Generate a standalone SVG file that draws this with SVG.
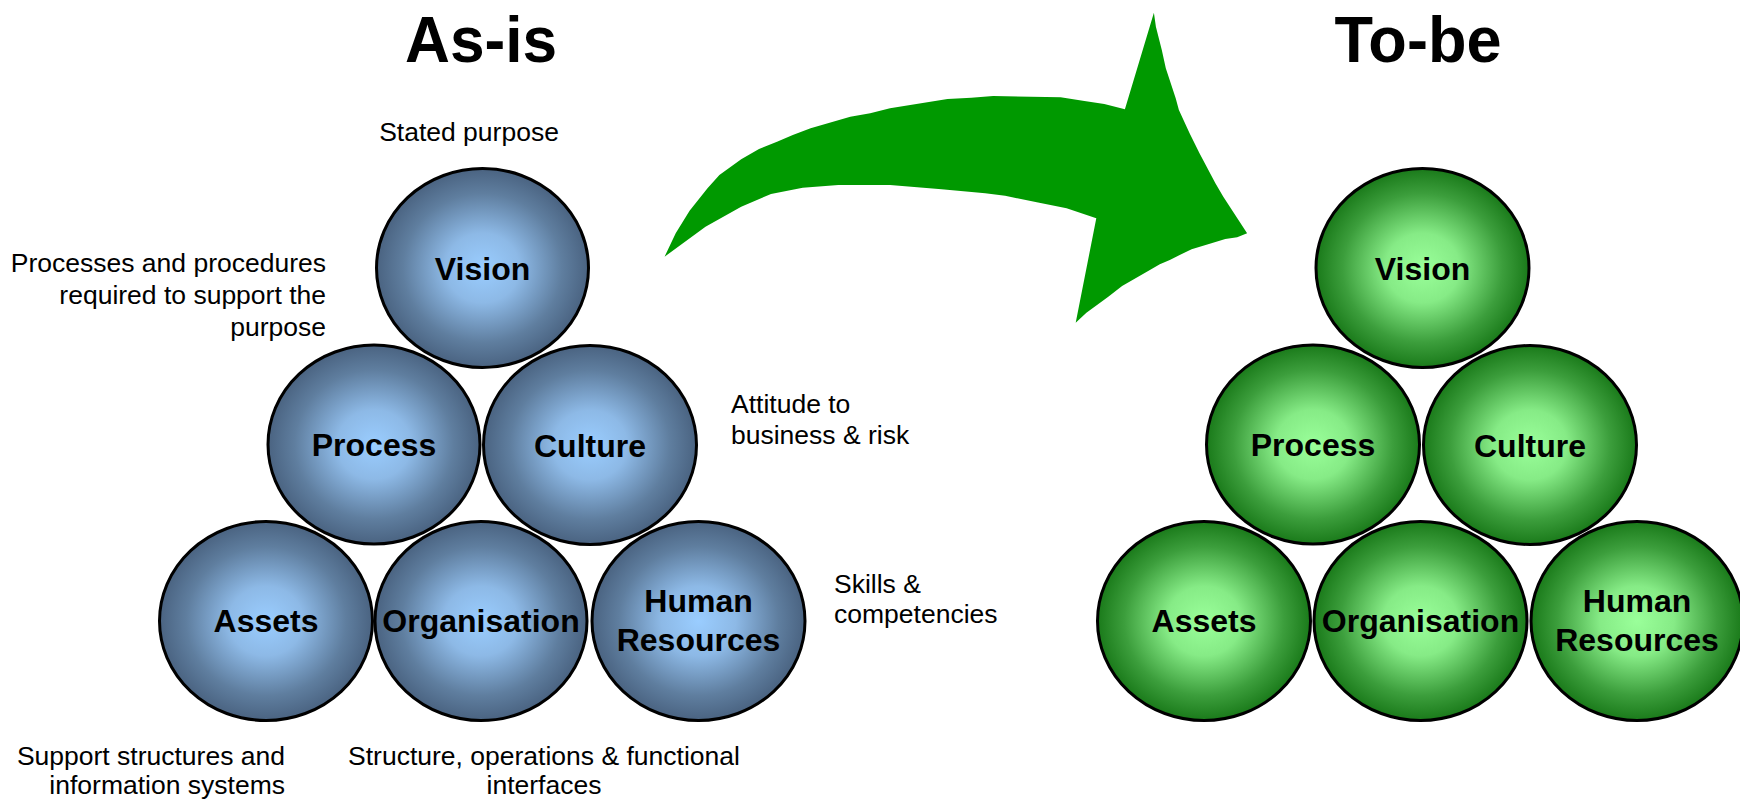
<svg xmlns="http://www.w3.org/2000/svg" width="1740" height="801" viewBox="0 0 1740 801">
<defs>
<radialGradient id="gBlue" cx="50%" cy="50%" r="50%">
<stop offset="0%" stop-color="#9ACDFF"/>
<stop offset="35%" stop-color="#8DB9E6"/>
<stop offset="75%" stop-color="#5F7E9F"/>
<stop offset="100%" stop-color="#4A6381"/>
</radialGradient>
<radialGradient id="gGreen" cx="50%" cy="50%" r="50%">
<stop offset="0%" stop-color="#9AFF9A"/>
<stop offset="35%" stop-color="#86EB86"/>
<stop offset="75%" stop-color="#3C9E3C"/>
<stop offset="100%" stop-color="#1A7A1A"/>
</radialGradient>
<style>
.blue{fill:url(#gBlue);stroke:#000;stroke-width:3}
.green{fill:url(#gGreen);stroke:#000;stroke-width:3}
.lbl{font-family:"Liberation Sans",Arial,sans-serif;font-weight:bold;font-size:32px;fill:#000;text-anchor:middle}
.title{font-family:"Liberation Sans",Arial,sans-serif;font-weight:bold;font-size:64px;fill:#000;text-anchor:middle}
.note{font-family:"Liberation Sans",Arial,sans-serif;font-size:26.5px;fill:#000}
</style>
</defs>
<rect width="1740" height="801" fill="#fff"/>

<text class="title" x="481" y="62" textLength="152" lengthAdjust="spacingAndGlyphs">As-is</text>
<text class="title" x="1418" y="62" textLength="167" lengthAdjust="spacingAndGlyphs">To-be</text>

<g id="connectors">
<path id="arrow" fill="#009900" d="M664.6,256.7 L675.7,233.3 L689.6,210.7 L707.5,188.3 L719.4,175 L741.2,159.3 L759,149 L777,141.7 L792.8,135 L810.6,128.3 L850.3,116.7 L870.2,113.3 L890,108.3 L947.5,99 L971.3,97.7 L993.2,96 L1060.6,97.3 L1084.4,101 L1104.3,104 L1124.9,109.3 L1153.9,12.7 L1155.9,26.7 L1161.8,50 L1165.8,68.3 L1175.7,98.3 L1178.9,110 L1189.6,133.3 L1199.5,153.3 L1215.4,183.3 L1223.3,196.7 L1247.1,233.3 L1237.2,237.3 L1225.3,239 L1211.4,243.3 L1191.6,249.3 L1179.7,255 L1169.8,260 L1159.8,264.3 L1149.9,270 L1122.1,286 L1108.3,296.7 L1086.4,312.7 L1075.7,322.7 L1096.3,218.3 L1066.6,208.3 L1036.8,202.3 L1005.1,195.7 L985.2,193.3 L941.6,189.3 L890,185 L838.4,185 L802.7,187.7 L771,194 L741.2,206.7 L705.5,226.7 Z"/>
</g>

<g id="asis-vision"><ellipse class="blue" cx="482.5" cy="268" rx="106" ry="99.5"/><text class="lbl" x="482.5" y="280">Vision</text></g>
<g id="asis-process"><ellipse class="blue" cx="374" cy="444.5" rx="106" ry="99.5"/><text class="lbl" x="374" y="456">Process</text></g>
<g id="asis-culture"><ellipse class="blue" cx="590" cy="445" rx="106.5" ry="99.5"/><text class="lbl" x="590" y="457">Culture</text></g>
<g id="asis-assets"><ellipse class="blue" cx="266" cy="621" rx="106.5" ry="99.5"/><text class="lbl" x="266" y="632">Assets</text></g>
<g id="asis-organisation"><ellipse class="blue" cx="481" cy="621" rx="106" ry="99.5"/><text class="lbl" x="481" y="632">Organisation</text></g>
<g id="asis-hr"><ellipse class="blue" cx="698.5" cy="621" rx="106.5" ry="99.5"/><text class="lbl" x="698.5" y="612">Human</text><text class="lbl" x="698.5" y="651">Resources</text></g>

<g id="tobe-vision"><ellipse class="green" cx="1422.5" cy="268" rx="106.5" ry="99.5"/><text class="lbl" x="1422.5" y="280">Vision</text></g>
<g id="tobe-process"><ellipse class="green" cx="1313" cy="444.5" rx="106.5" ry="99.5"/><text class="lbl" x="1313" y="456">Process</text></g>
<g id="tobe-culture"><ellipse class="green" cx="1530" cy="445" rx="106.5" ry="99.5"/><text class="lbl" x="1530" y="457">Culture</text></g>
<g id="tobe-assets"><ellipse class="green" cx="1204" cy="621" rx="106.5" ry="99.5"/><text class="lbl" x="1204" y="632">Assets</text></g>
<g id="tobe-organisation"><ellipse class="green" cx="1420.5" cy="621" rx="106.5" ry="99.5"/><text class="lbl" x="1420.5" y="632">Organisation</text></g>
<g id="tobe-hr"><ellipse class="green" cx="1637" cy="621" rx="106" ry="99.5"/><text class="lbl" x="1637" y="612">Human</text><text class="lbl" x="1637" y="651">Resources</text></g>

<g id="notes">
<text class="note" x="469" y="141" text-anchor="middle">Stated purpose</text>
<text class="note" text-anchor="end"><tspan x="326" y="272">Processes and procedures</tspan><tspan x="326" y="304">required to support the</tspan><tspan x="326" y="336">purpose</tspan></text>
<text class="note"><tspan x="731" y="413">Attitude to</tspan><tspan x="731" y="444">business &amp; risk</tspan></text>
<text class="note"><tspan x="834" y="593">Skills &amp;</tspan><tspan x="834" y="623">competencies</tspan></text>
<text class="note" text-anchor="end"><tspan x="285" y="765">Support structures and</tspan><tspan x="285" y="794">information systems</tspan></text>
<text class="note" text-anchor="middle"><tspan x="544" y="765">Structure, operations &amp; functional</tspan><tspan x="544" y="794">interfaces</tspan></text>
</g>
</svg>
